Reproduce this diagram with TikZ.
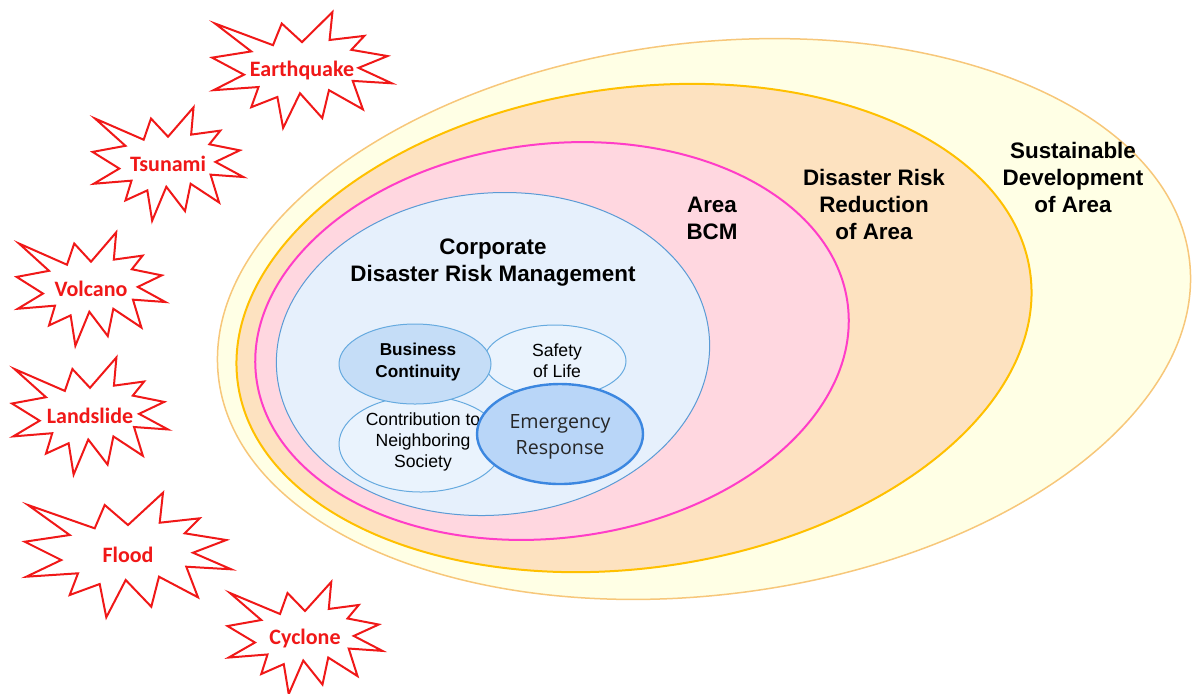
\documentclass[tikz,border=0pt]{standalone}
\usepackage{fontspec}
\setmainfont{Liberation Sans}
\newfontfamily\hazardfont{Carlito}
\newfontfamily\respfont{Open Sans}
\usetikzlibrary{positioning}

\definecolor{sdfill}{HTML}{FFFFE5}
\definecolor{sdline}{HTML}{F7C77A}
\definecolor{drrfill}{HTML}{FDE2C0}
\definecolor{drrline}{HTML}{FFC000}
\definecolor{bcmfill}{HTML}{FFD7E0}
\definecolor{bcmline}{HTML}{FF3DC8}
\definecolor{cdrmfill}{HTML}{E6F0FC}
\definecolor{cdrmline}{HTML}{5B9BD5}
\definecolor{bcfill}{HTML}{C5DDF7}
\definecolor{paleblue}{HTML}{EAF3FD}
\definecolor{subline}{HTML}{66AADF}
\definecolor{erfill}{HTML}{B9D6F8}
\definecolor{erline}{HTML}{3C87E0}
\definecolor{hazardred}{HTML}{F01818}

% outline of one explosion, flood size, y pointing down
\newcommand{\burstshape}{(-100,-50) -- (-33.3,-26.7) -- (-23.3,-50) -- (0,-30) -- (35,-62.3) -- (31.7,-32.3) -- (71.7,-36.7) -- (56.7,-21.7) -- (98.3,-15) -- (65,-2.3) -- (103.3,14.3) -- (58.3,11.7) -- (70,42.3) -- (31,21.7) -- (23.3,51.7) -- (-2.3,25) -- (-21.7,62.3) -- (-28.3,29) -- (-58.3,40) -- (-50,18.3) -- (-101.7,21.7) -- (-66.7,5) -- (-103.3,-13.3) -- (-58.3,-20) -- cycle}

\tikzset{
	biglabel/.style={font=\bfseries\fontsize{11.2}{13.5}\selectfont, align=center, inner sep=0pt},
	sublabel/.style={font=\fontsize{8.8}{10.5}\selectfont, align=center, inner sep=0pt},
	hazard/.style={font=\hazardfont\bfseries\fontsize{11}{13}\selectfont, text=hazardred, inner sep=0pt},
	burst/.style={draw=hazardred, line width=1pt, fill=white},
	subzone/.style={draw=subline, line width=0.5pt, fill=paleblue},
}

\begin{document}
\begin{tikzpicture}[x=0.5pt, y=-0.5pt]
		\useasboundingbox (0,0) rectangle (1193,693);
		% nested areas
		\draw[sdline, fill=sdfill, line width=0.75pt, rotate around={7:(704,319)}] (704,319) ellipse [x radius=489, y radius=276];
		\draw[drrline, fill=drrfill, line width=1pt, rotate around={8:(634,328)}] (634,328) ellipse [x radius=400, y radius=240];
		\draw[bcmline, fill=bcmfill, line width=1pt, rotate around={7:(552,341)}] (552,341) ellipse [x radius=298, y radius=197];
		\draw[cdrmline, fill=cdrmfill, line width=0.5pt, rotate around={5:(493,354)}] (493,354) ellipse [x radius=217, y radius=161];
		% area labels
		\node[biglabel] (sd) at (1073,177) {Sustainable\\Development\\of Area};
		\node[biglabel] (drr) at (874,204) {Disaster Risk\\Reduction\\of Area};
		\node[biglabel] (abcm) at (712,218) {Area\\BCM};
		\node[biglabel] (cdrm) at (493,263) {Corporate\\Disaster Risk Management};
		% corporate parts
		\draw[subzone] (421,444) ellipse [x radius=82, y radius=48];
		\node[sublabel] (contrib) at (423,442) {Contribution to\\Neighboring\\Society};
		\draw[subzone] (555,361) ellipse [x radius=71, y radius=36];
		\node[sublabel] (safety) at (557,361) {Safety\\of Life};
		\draw[subzone, fill=bcfill] (415,364) ellipse [x radius=76, y radius=40];
		\node[sublabel, font=\bfseries\fontsize{8.6}{10.8}\selectfont] (bc) at (418,362) {Business\\Continuity};
		\draw[erline, fill=erfill, line width=1.2pt] (560,434) ellipse [x radius=83, y radius=50];
		\node[sublabel, font=\respfont\fontsize{9.8}{13}\selectfont, text=black!85] (er) at (560,437) {Emergency\\Response};
		% hazards
		\foreach \nm/\txt/\cx/\cy/\sx/\sy in {quake/Earthquake/302/70/0.87/0.93, tsunami/Tsunami/168/164/0.73/0.91, volcano/Volcano/91/289/0.72/0.91, landslide/Landslide/90/416/0.755/0.94, flood/Flood/128/555/1/1, cyclone/Cyclone/305/638/0.75/0.9} {
			\draw[burst, shift={(\cx,\cy)}, xscale=\sx, yscale=\sy] \burstshape;
			\node[hazard] (\nm) at (\cx,\cy) {\txt};
		}
\end{tikzpicture}
\end{document}
